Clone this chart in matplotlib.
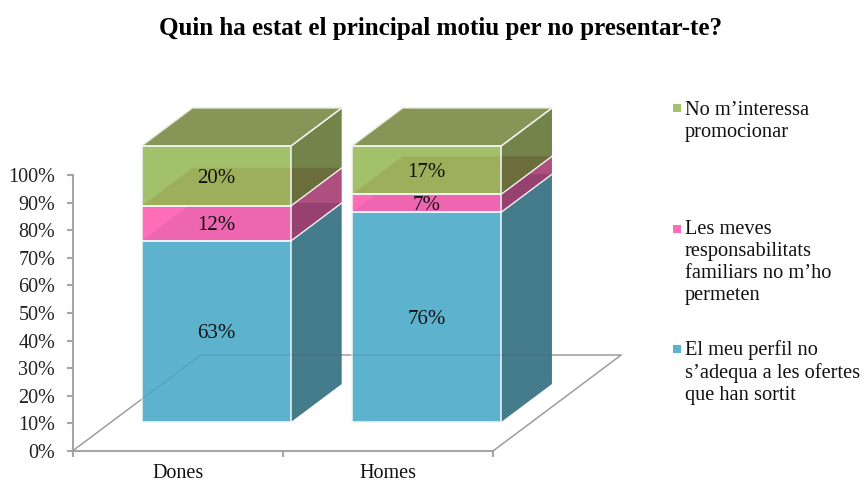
import matplotlib
matplotlib.use("Agg")
import matplotlib.pyplot as plt
from matplotlib.patches import Polygon, Rectangle

plt.rcParams['font.family'] = ['Liberation Serif', 'DejaVu Serif']

W, H = 864, 482
categories = ['Dones', 'Homes']
# bar heights (Dones is normalised by the chart)
blue_heights = [65.6, 76.0]
pink_heights = [12.7, 6.5]
green_heights = [21.7, 17.5]
# printed data labels
blue_labels = ['63%', '76%']
pink_labels = ['12%', '7%']
green_labels = ['20%', '17%']
legend_labels = ['No m\u2019interessa\npromocionar',
                 'Les meves\nresponsabilitats\nfamiliars no m\u2019ho\npermeten',
                 'El meu perfil no\ns\u2019adequa a les ofertes\nque han sortit']
yticks = list(range(0, 101, 10))
title = 'Quin ha estat el principal motiu per no presentar-te?'

FRONT = {'blue': '#5DB3CD', 'pink': '#FF6CB8', 'green': '#A3C16B'}
SIDE = {'blue': '#457C8B', 'pink': '#AD5080', 'green': '#728449'}
TOP = '#879657'
OV_FRONT = {'pink': '#EE65B0', 'green': '#9EAF5C'}
OV_SIDE = {'pink': '#96416F', 'green': '#6C6D3C'}
GRID = '#A6A6A6'

DX, DY = 128 / 210, 96 / 2.76  # floor depth in data units
D0, D1 = 0.302, 0.698          # bar depth range
BW = 0.71


def P(x, y, d):
    return (x + d * DX, y + d * DY)


fig = plt.figure(figsize=(W / 100, H / 100), dpi=100)
ax = fig.add_axes([72.5 / W, 1 - 451 / H, (493 - 72.5) / W, (451 - 175) / H])
ax.set_xlim(0, 2)
ax.set_ylim(0, 100)
ax.patch.set_alpha(0)
for s in ('top', 'right'):
    ax.spines[s].set_visible(False)
for s in ('left', 'bottom'):
    ax.spines[s].set_color(GRID)
    ax.spines[s].set_linewidth(1.5)
ax.set_yticks(yticks)
ax.set_yticklabels([f'{t}%' for t in yticks], fontsize=14.5, color='#222222')
ax.set_xticks([0, 1, 2])
ax.set_xticklabels([])
ax.tick_params(axis='both', length=4, width=1.5, color=GRID, pad=8.5)
for i, c in enumerate(categories):
    ax.text(i + 0.5, -8.0, c, ha='center', va='center', fontsize=14.5, color='#111111', clip_on=False)


def floor(**kw):
    pts = [P(0, 0, 0), P(0, 0, 1), P(2, 0, 1), P(2, 0, 0)]
    ax.plot(*zip(*pts), clip_on=False, **kw)


floor(color=GRID, lw=1, zorder=1)

for i in range(len(categories)):
    x0 = i + 0.5 - BW / 2
    x1 = x0 + BW
    segs = [('blue', blue_heights[i], blue_labels[i]),
            ('pink', pink_heights[i], pink_labels[i]),
            ('green', green_heights[i], green_labels[i])]
    base = 0
    bounds = []
    for name, h, lab in segs:
        y0, y1 = base, base + h
        front = [P(x0, y0, D0), P(x1, y0, D0), P(x1, y1, D0), P(x0, y1, D0)]
        side = [P(x1, y0, D0), P(x1, y0, D1), P(x1, y1, D1), P(x1, y1, D0)]
        ax.add_patch(Polygon(side, fc=SIDE[name], ec='none', zorder=3, clip_on=False))
        ax.add_patch(Polygon(front, fc=FRONT[name], ec='none', zorder=3, clip_on=False))
        bounds.append((name, y0, y1, front, side, lab))
        base = y1

    # inner top faces of the lower segments, seen through the upper ones
    tops = [bounds[0][2], bounds[1][2]]
    for ty in tops:
        poly = [P(x0, ty, D0), P(x1, ty, D0), P(x1, ty, D1), P(x0, ty, D1)]
        for name, y0, y1, front, side, lab in bounds[1:]:
            if y1 <= ty:
                continue
            for shape, col in ((front, OV_FRONT[name]), (side, OV_SIDE[name])):
                clip = Polygon(shape, transform=ax.transData)
                patch = Polygon(poly, fc=col, ec='none', zorder=4)
                ax.add_patch(patch)
                patch.set_clip_box(fig.bbox)
                patch.set_clip_path(clip)

    # top lid
    ttop = base
    lid = [P(x0, ttop, D0), P(x1, ttop, D0), P(x1, ttop, D1), P(x0, ttop, D1)]
    ax.add_patch(Polygon(lid, fc=TOP, ec='#E4E8D8', lw=1, zorder=5, clip_on=False))

    # white edges and data labels
    for name, y0, y1, front, side, lab in bounds:
        ax.add_patch(Polygon(front, fc='none', ec='#F2F7F8', lw=1.1, zorder=6, clip_on=False))
        ax.plot(*zip(P(x1, y1, D0), P(x1, y1, D1)), color='#F2F2F2', lw=1, zorder=6, clip_on=False)
        ax.text((x0 + x1) / 2 + D0 * DX, (y0 + y1) / 2 + D0 * DY - 0.9, lab,
                ha='center', va='center', fontsize=15, color='#111111', zorder=8, clip_on=False)

floor(color='#333333', lw=1, alpha=0.12, zorder=7)

# title and legend
fig.text(440.5 / W, 1 - 28.5 / H, title, ha='center', va='center', fontsize=18.1,
         fontweight='bold', color='#000000')
legend_colors = [FRONT['green'], FRONT['pink'], FRONT['blue']]
legend_y = [101, 220.5, 340.5]
marker_y = [104, 224.5, 345]
for lab, col, y, my in zip(legend_labels, legend_colors, legend_y, marker_y):
    fig.add_artist(Rectangle((672.5 / W, 1 - (my + 8) / H), 8 / W, 8 / H,
                             transform=fig.transFigure, fc=col, ec='none'))
    fig.text(685 / W, 1 - y / H, lab, ha='left', va='top', fontsize=14.7,
             color='#111111', linespacing=1.21)

fig.savefig('out.png', dpi=100)
